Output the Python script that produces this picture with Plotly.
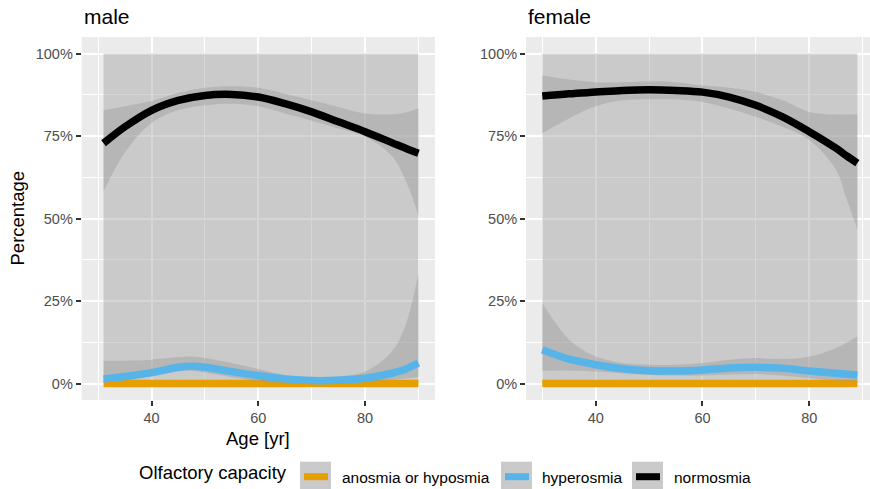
import plotly.graph_objects as go

# ---------------- data: smoothed share of each olfactory class by age ----------------
# male panel
m_ano_age = [31, 90]
m_ano_fit = [0, 0]
m_ano_lo = [0, 0]
m_ano_hi = [100, 100]

m_hyp_age = [31, 35, 40, 45, 47.5, 50, 55, 60, 65, 70, 75, 80, 85, 87.5, 90]
m_hyp_fit = [1.4, 2.1, 3.3, 4.9, 5.2, 4.9, 3.6, 2.4, 1.4, 0.9, 1.0, 1.6, 3.1, 4.3, 6.2]
m_hyp_lo = [0.3, 0.9, 2.1, 3.6, 3.9, 3.3, 1.9, 0.6, 0.0, 0.0, 0.0, 0.3, 1.1, 1.5, 2.0]
m_hyp_hi = [6.9, 6.9, 7.2, 8.0, 8.2, 7.7, 6.2, 4.4, 2.6, 1.9, 2.1, 3.6, 9.7, 17.3, 33.5]

m_nor_age = [31, 35, 40, 45, 50, 55, 60, 65, 70, 75, 80, 85, 88, 90]
m_nor_fit = [72.8, 77.8, 82.8, 85.8, 87.3, 87.6, 86.8, 84.8, 82.3, 79.3, 76.3, 73.0, 71.0, 69.8]
m_nor_lo = [58.3, 70.0, 79.0, 82.8, 84.3, 84.8, 84.0, 81.8, 79.6, 77.3, 74.8, 69.0, 60.0, 50.7]
m_nor_hi = [82.8, 84.0, 85.6, 88.0, 89.6, 90.1, 89.6, 87.8, 85.8, 83.8, 81.8, 81.6, 82.3, 83.3]

# female panel
f_ano_age = [30, 89]
f_ano_fit = [0, 0]
f_ano_lo = [0, 0]
f_ano_hi = [100, 100]

f_hyp_age = [30, 32.5, 35, 37.5, 40, 45, 50, 55, 60, 65, 70, 75, 80, 85, 89]
f_hyp_fit = [10.2, 8.7, 7.4, 6.5, 5.7, 4.5, 3.9, 3.8, 4.1, 4.7, 4.9, 4.6, 3.8, 3.1, 2.6]
f_hyp_lo = [3.9, 3.9, 3.9, 3.8, 3.6, 3.1, 2.6, 2.4, 2.4, 2.7, 2.9, 2.4, 1.6, 0.9, 0.5]
f_hyp_hi = [24.4, 18.3, 13.3, 10.2, 8.2, 6.2, 5.7, 5.7, 6.2, 7.2, 7.7, 7.4, 8.2, 10.7, 14.3]

f_nor_age = [30, 35, 40, 45, 50, 55, 60, 65, 70, 75, 80, 85, 87, 89]
f_nor_fit = [87.1, 87.8, 88.3, 88.8, 89.0, 88.8, 88.3, 86.8, 84.3, 80.8, 76.3, 71.3, 69.0, 66.8]
f_nor_lo = [75.8, 80.3, 84.0, 85.8, 86.1, 86.1, 85.3, 83.3, 80.8, 77.8, 73.8, 64.8, 55.8, 46.7]
f_nor_hi = [93.3, 92.1, 91.3, 91.3, 91.5, 91.3, 90.3, 89.6, 88.3, 85.8, 82.3, 81.5, 81.5, 81.5]

classes = ["anosmia or hyposmia", "hyperosmia", "normosmia"]
colors = {"anosmia or hyposmia": "#E69F00", "hyperosmia": "#56B4E9", "normosmia": "#000000"}

y_ticks = [0, 25, 50, 75, 100]
y_labels = ["0%", "25%", "50%", "75%", "100%"]
x_ticks = [40, 60, 80]

panels = {
    "male": {
        "anosmia or hyposmia": (m_ano_age, m_ano_fit, m_ano_lo, m_ano_hi),
        "hyperosmia": (m_hyp_age, m_hyp_fit, m_hyp_lo, m_hyp_hi),
        "normosmia": (m_nor_age, m_nor_fit, m_nor_lo, m_nor_hi),
    },
    "female": {
        "anosmia or hyposmia": (f_ano_age, f_ano_fit, f_ano_lo, f_ano_hi),
        "hyperosmia": (f_hyp_age, f_hyp_fit, f_hyp_lo, f_hyp_hi),
        "normosmia": (f_nor_age, f_nor_fit, f_nor_lo, f_nor_hi),
    },
}

FONT = "Liberation Sans, Arial, sans-serif"
W, H = 870, 489
BAND = "rgba(153,153,153,0.4)"
LINE_W = 7.5


def px(x):
    return x / W


def py(y):
    return 1 - y / H


fig = go.Figure()

axes = {"male": ("x", "y"), "female": ("x2", "y2")}
for panel, groups in panels.items():
    xa, ya = axes[panel]
    # each group: ribbon first, then its fitted line on top
    for cls in classes:
        age, fit, lo, hi = groups[cls]
        shape = "spline" if len(age) > 2 else "linear"
        fig.add_trace(go.Scatter(x=age, y=lo, mode="lines", line=dict(width=0, shape=shape),
                                 hoverinfo="skip", showlegend=False, xaxis=xa, yaxis=ya))
        fig.add_trace(go.Scatter(x=age, y=hi, mode="lines", line=dict(width=0, shape=shape),
                                 fill="tonexty", fillcolor=BAND, hoverinfo="skip",
                                 showlegend=False, xaxis=xa, yaxis=ya))
        fig.add_trace(go.Scatter(x=age, y=fit, mode="lines", name=cls,
                                 line=dict(color=colors[cls], width=LINE_W, shape=shape),
                                 showlegend=False, xaxis=xa, yaxis=ya))

tick_font = dict(family=FONT, size=14.5, color="#4D4D4D")
common_x = dict(tickvals=x_ticks, ticks="outside", ticklen=5, tickwidth=1.5, tickcolor="#333333",
                tickfont=tick_font, showgrid=True, gridcolor="white", gridwidth=1.8,
                zeroline=False, showline=False, anchor=None,
                minor=dict(tickvals=[30, 50, 70, 90], showgrid=True, gridcolor="white", gridwidth=0.9))
common_y = dict(tickvals=y_ticks, ticktext=y_labels, ticks="outside", ticklen=5, tickwidth=1.5,
                tickcolor="#333333", tickfont=tick_font, showgrid=True, gridcolor="white",
                gridwidth=1.8, zeroline=False, showline=False, range=[-5, 105],
                minor=dict(tickvals=[12.5, 37.5, 62.5, 87.5], showgrid=True, gridcolor="white",
                           gridwidth=0.9))

y_dom = [py(400), py(37)]
fig.update_layout(
    width=W, height=H, margin=dict(l=0, r=0, t=0, b=0),
    paper_bgcolor="white", plot_bgcolor="#EBEBEB",
    font=dict(family=FONT, color="black"),
    xaxis={**common_x, "domain": [px(81.7), px(435)], "range": [26.9, 93.1], "anchor": "y"},
    xaxis2={**common_x, "domain": [px(526), 1.0], "range": [26.95, 91.37], "anchor": "y2"},
    yaxis={**common_y, "domain": y_dom, "anchor": "x"},
    yaxis2={**common_y, "domain": y_dom, "anchor": "x2"},
    showlegend=False,
)

annotations = [
    dict(text="male", x=px(82), y=py(16.5), xanchor="left", yanchor="middle", font=dict(size=21)),
    dict(text="female", x=px(526), y=py(16.5), xanchor="left", yanchor="middle", font=dict(size=21)),
    dict(text="Percentage", x=px(17), y=py(218.5), xanchor="center", yanchor="middle",
         textangle=-90, font=dict(size=18.5)),
    dict(text="Age [yr]", x=px(258.3), y=py(438), xanchor="center", yanchor="middle",
         font=dict(size=18.5)),
    dict(text="Olfactory capacity", x=px(136.7), y=py(472), xanchor="left", yanchor="middle",
         font=dict(size=18.5)),
]

# legend keys: grey key box, coloured stroke, label
key_x = [300, 501, 632]
label_x = [340, 540, 671.7]
shapes = []
for cls, kx, lx in zip(classes, key_x, label_x):
    shapes.append(dict(type="rect", xref="paper", yref="paper", x0=px(kx), x1=px(kx + 31),
                       y0=py(491), y1=py(461.7), fillcolor="#CACACA", line=dict(width=0)))
    shapes.append(dict(type="line", xref="paper", yref="paper", x0=px(kx + 4), x1=px(kx + 28),
                       y0=py(476.7), y1=py(476.7), line=dict(color=colors[cls], width=7)))
    annotations.append(dict(text=cls, x=px(lx), y=py(477.5), xanchor="left", yanchor="middle",
                            font=dict(size=15.5)))

for a in annotations:
    a.update(xref="paper", yref="paper", showarrow=False)
    a["font"] = {**a["font"], "family": FONT, "color": "black"}

fig.update_layout(annotations=annotations, shapes=shapes)

fig.write_html("out.html")
